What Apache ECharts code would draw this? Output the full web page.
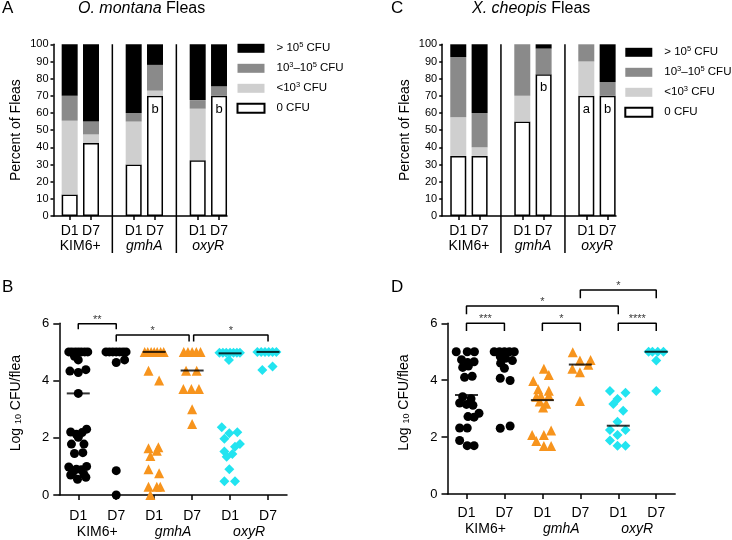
<!DOCTYPE html>
<html><head><meta charset="utf-8">
<script src="https://cdn.jsdelivr.net/npm/echarts@6/dist/echarts.min.js"></script>
<style>html,body{margin:0;padding:0;background:#fff}#c{width:732px;height:540px}</style>
</head><body><div id="c"></div>
<script>
// ---------- data ----------
const groups = ['KIM6+', 'gmhA', 'oxyR'];
const days = ['D1', 'D7'];
const cfuClasses = ['0 CFU', '<10^3 CFU', '10^3-10^5 CFU', '> 10^5 CFU'];
const legendOrder = ['> 10^5 CFU', '10^3-10^5 CFU', '<10^3 CFU', '0 CFU'];
const legendText = {
  '> 10^5 CFU': '> 10{sup|5} CFU',
  '10^3-10^5 CFU': '10{sup|3}–10{sup|5} CFU',
  '<10^3 CFU': '<10{sup|3} CFU',
  '0 CFU': '0 CFU'
};

// Panel A (O. montana) percent of fleas; order KIM6+ D1, D7, gmhA D1, D7, oxyR D1, D7
const aZero = [12.5, 42.5, 30, 70, 32.5, 70];
const aLow  = [43, 5, 25, 3, 30, 0];
const aMid  = [14.5, 7.5, 5, 15, 5, 5.5];
const aHigh = [30, 45, 40, 12, 32.5, 24.5];
const aLetters = ['', '', '', 'b', '', 'b'];

// Panel C (X. cheopis)
const cZero = [35, 35, 55, 82.5, 70, 70];
const cLow  = [22.5, 5, 15, 0, 20, 0];
const cMid  = [35, 20, 30, 15, 10, 8];
const cHigh = [7.5, 40, 0, 2.5, 0, 22];
const cLetters = ['', '', '', 'b', 'a', 'b'];

// Panel B scatter: [jitter offset, log10 CFU/flea]
const bKimD1 = [[-0.25,5],[-0.17,5],[-0.08,5],[0,5],[0.08,5],[0.17,5],[0.25,5],[-0.1,4.85],[0,4.72],
  [-0.22,4.33],[0,4.28],[0.2,4.38],[0,3.55],[-0.2,2.2],[-0.05,2.12],[0.1,2.18],[0.22,2.3],[0,2.02],
  [-0.18,1.78],[0.15,1.78],[-0.1,1.45],[0.12,1.48],[-0.25,0.98],[-0.05,0.9],[0.22,1.0],[0.08,0.88],
  [-0.15,0.78],[0.15,0.72],[-0.02,0.55],[0.2,0.62],[-0.2,0.7]];
const bKimD7 = [[-0.27,5],[-0.18,5],[-0.09,5],[0,5],[0.09,5],[0.18,5],[0.26,5],[0,4.63],[0.22,4.72],[0,0.85],[0,0]];
const bGmhD1 = [[-0.25,5],[-0.17,5],[-0.08,5],[0,5],[0.08,5],[0.17,5],[0.25,5],[-0.15,4.34],[0.13,4.0],
  [-0.15,1.63],[0.11,1.67],[0.07,1.55],[-0.1,1.36],[-0.15,0.9],[0.13,0.76],[-0.15,0.29],[0.07,0.29],[0.16,0.29],[-0.1,0]];
const bGmhD7 = [[-0.22,5],[-0.11,5],[0,5],[0.11,5],[0.22,5],[-0.16,4.34],[0.12,4.34],[-0.23,3.7],[-0.02,3.7],[0.18,3.7],[0,3.0],[0,2.48]];
const bOxyD1 = [[-0.28,4.97],[-0.19,4.97],[-0.1,4.97],[0,4.97],[0.09,4.97],[0.18,4.97],[0.26,4.97],[-0.03,4.72],
  [-0.22,2.37],[-0.02,2.16],[0.19,2.19],[-0.15,1.97],[0.26,1.78],[0.13,1.69],[-0.15,1.52],[0.06,1.43],[-0.09,1.34],
  [-0.02,0.9],[-0.15,0.48],[0.13,0.48]];
const bOxyD7 = [[-0.28,5],[-0.18,5],[-0.08,5],[0.02,5],[0.12,5],[0.22,5],[-0.15,4.37],[0.12,4.49]];
const bMedians = [3.55, 5.0, 5.0, 4.35, 4.95, 5.0];
// brackets: [from, to, height, drop, stars]
const bBrackets = [[0,1,5.98,5.79,'**'],[1,2.92,5.59,5.36,'*'],[3.04,5,5.59,5.36,'*']];

// Panel D scatter
const dKimD1 = [[-0.27,5],[0.02,5],[0.21,5],[-0.13,4.72],[0.03,4.62],[0.2,4.65],[-0.1,4.45],[0.05,4.5],
  [-0.05,4.1],[0.15,4.14],[-0.1,3.42],[0.12,3.35],[-0.18,3.2],[0.0,3.15],[0.17,3.12],[0.04,2.72],[0.2,2.7],[0.33,2.84],
  [-0.18,2.32],[0.02,2.32],[-0.18,1.88],[0.02,1.7],[0.2,1.7]];
const dKimD7 = [[-0.27,5],[-0.13,5],[0,5],[0.13,5],[0.26,5],[-0.11,4.83],[0.03,4.77],[0.21,4.69],[-0.1,4.6],[0,4.42],
  [-0.11,4.07],[0.15,3.99],[-0.11,2.31],[0.15,2.39]];
const dGmhD1 = [[0.04,4.4],[0.17,4.18],[-0.24,3.97],[-0.11,3.68],[0.17,3.63],[-0.04,3.45],[0.17,3.45],[-0.16,3.42],
  [-0.07,3.25],[0.1,3.17],[0.02,3.04],[-0.27,2.07],[0.04,2.07],[0.23,2.23],[-0.16,1.86],[0.04,1.69],[0.23,1.69]];
const dGmhD7 = [[-0.2,4.98],[-0.01,4.69],[0.27,4.71],[-0.21,4.4],[-0.01,4.28],[0.21,4.54],[-0.01,3.27]];
const dOxyD1 = [[-0.22,3.62],[0.19,3.56],[-0.02,3.34],[-0.13,3.16],[0.13,2.93],[-0.02,2.54],[-0.22,2.25],[0.19,2.25],
  [-0.02,2.07],[-0.22,1.88],[-0.02,1.7],[0.19,1.7]];
const dOxyD7 = [[-0.2,5],[-0.1,5],[0.04,5],[0.19,5],[0,4.69],[0,3.62]];
const dMedians = [3.48, 5.0, 3.3, 4.55, 2.4, 5.0];
const dBrackets = [[0,1,6.0,5.73,'***'],[2,3,6.0,5.73,'*'],[4,5,6.0,5.73,'****'],[0,4,6.61,6.32,'*'],[3,5,7.17,6.88,'*']];

const percentTicks = [0, 100, 10];   // min, max, interval
const logTicks = [0, 6, 2];

// ---------- styling ----------
const FONT = 'Liberation Sans, Arial, Helvetica, sans-serif';
const segColors = ['#ffffff', '#cfcfcf', '#8a8a8a', '#000000'];
const grpSymbols = ['circle', 'triangle', 'diamond'];
const grpColors = ['#000000', '#F7941D', '#22E4F0'];
const grpSizes = [9, 10, 10];

// category slots for bar panels: D1, D7, (gap), D1, D7, (gap), D1, D7
const barCats = [];
groups.forEach((g, gi) => { days.forEach(d => barCats.push(d)); if (gi < groups.length - 1) barCats.push(''); });
const barSlot = i => Math.floor(i / 2) * 3 + (i % 2);
const sepSlots = [2, 5];
const sepTop = 100, sepBottom = -21.5;

const grids = [
  {left: 53.5, top: 44.3, width: 173.5, height: 171.7},   // frame A
  {left: 59.0, top: 44.3, width: 170.7, height: 171.7},   // data A
  {left: 442.2, top: 44.3, width: 173.8, height: 171.7},  // frame C
  {left: 447.6, top: 44.3, width: 170.7, height: 171.7},  // data C
  {left: 59.3, top: 323.3, width: 227.7, height: 171.7},  // B
  {left: 447.5, top: 323.3, width: 227.7, height: 170.7}  // D
];

const blackLine = {color: '#000', width: 1.5};
const xAxes = [], yAxes = [], series = [];

function groupLabel(g) { return g === 'KIM6+' ? g : '{it|' + g + '}'; }
const itRich = {it: {fontStyle: 'italic', fontSize: 14, color: '#000'}};

function addBarPanel(frameGi, dataGi, vals, letters) {
  // frame grid: visible y axis + x axis line + group labels
  xAxes.push({type: 'value', gridIndex: frameGi, min: 0.25, max: 8.38, splitLine: {show: false},
    axisLine: {show: true, onZero: false, lineStyle: blackLine}, axisTick: {show: false},
    axisLabel: {customValues: [1.5, 4.5, 7.5], formatter: v => groupLabel(groups[Math.round((v - 1.5) / 3)]),
      fontSize: 14, color: '#000', margin: 23, rich: itRich}});
  yAxes.push({type: 'value', gridIndex: frameGi, min: percentTicks[0], max: percentTicks[1], interval: percentTicks[2],
    axisLine: {show: true, onZero: false, lineStyle: blackLine}, splitLine: {show: false},
    axisTick: {show: true, length: 3, lineStyle: blackLine},
    axisLabel: {fontSize: 11, color: '#000', margin: 5},
    name: 'Percent of Fleas', nameLocation: 'middle', nameGap: 30, nameTextStyle: {fontSize: 14, color: '#000'}});
  // data grid: category slots
  xAxes.push({type: 'category', gridIndex: dataGi, data: barCats, boundaryGap: true,
    axisLine: {show: false, onZero: false},
    axisTick: {show: true, alignWithLabel: true, length: 4, lineStyle: blackLine, interval: (i, v) => v !== ''},
    axisLabel: {interval: 0, fontSize: 14, color: '#000', margin: 8}});
  yAxes.push({type: 'value', gridIndex: dataGi, show: false, min: percentTicks[0], max: percentTicks[1], splitLine: {show: false}});
  const xi = xAxes.length - 1, yi = yAxes.length - 1;
  vals.forEach((arr, k) => {
    const data = barCats.map(() => '-');
    arr.forEach((v, i) => { data[barSlot(i)] = v; });
    series.push({type: 'bar', name: cfuClasses[k], xAxisIndex: xi, yAxisIndex: yi, stack: 'p' + dataGi, barWidth: 16,
      data: data,
      itemStyle: {color: segColors[k], borderColor: k === 0 ? '#000' : segColors[k], borderWidth: k === 0 ? 1.5 : 0},
      label: k === 0 ? {show: true, position: 'insideTop', distance: 7, fontSize: 13, color: '#000',
        formatter: p => { const i = arr.findIndex((_, j) => barSlot(j) === p.dataIndex); return i >= 0 ? letters[i] : ''; }} : {show: false},
      silent: true});
  });
  sepSlots.forEach(s => series.push({type: 'line', xAxisIndex: xi, yAxisIndex: yi, clip: false, symbol: 'none', silent: true,
    data: [[s, sepTop], [s, sepBottom]], lineStyle: blackLine}));
}

function addScatterPanel(gi, pts, medians, brackets, labelMargin) {
  const catVals = [0,1,2,3,4,5];
  xAxes.push({type: 'value', gridIndex: gi, min: -0.5, max: 5.5, splitLine: {show: false},
    axisLine: {show: true, onZero: false, lineStyle: blackLine},
    axisTick: {customValues: catVals, length: 5, lineStyle: blackLine},
    axisLabel: {customValues: catVals, formatter: v => days[Math.round(v) % 2], fontSize: 14, color: '#000', margin: labelMargin}});
  xAxes.push({type: 'value', gridIndex: gi, min: -0.5, max: 5.5, position: 'bottom', offset: 16,
    axisLine: {show: false, onZero: false}, axisTick: {show: false}, splitLine: {show: false},
    axisLabel: {customValues: [0.5, 2.5, 4.5], formatter: v => groupLabel(groups[Math.round((v - 0.5) / 2)]),
      fontSize: 14, color: '#000', margin: labelMargin, rich: itRich}});
  const xi = xAxes.length - 2;
  yAxes.push({type: 'value', gridIndex: gi, min: logTicks[0], max: logTicks[1], interval: logTicks[2],
    axisLine: {show: true, onZero: false, lineStyle: blackLine}, splitLine: {show: false},
    axisTick: {show: true, length: 6, lineStyle: blackLine},
    axisLabel: {fontSize: 13, color: '#000', margin: 10},
    name: 'Log {sub|10} CFU/flea', nameLocation: 'middle', nameGap: 36,
    nameTextStyle: {fontSize: 14, color: '#000', padding: [0, 0, 0, 12], rich: {sub: {fontSize: 9, verticalAlign: 'bottom', color: '#000'}}}});
  const yi = yAxes.length - 1;
  pts.forEach((arr, ci) => {
    const g = Math.floor(ci / 2);
    series.push({type: 'scatter', xAxisIndex: xi, yAxisIndex: yi, symbol: grpSymbols[g], symbolSize: grpSizes[g], clip: false,
      itemStyle: {color: grpColors[g], opacity: 1}, silent: true, data: arr.map(p => [ci + p[0], p[1]])});
  });
  series.push({type: 'scatter', xAxisIndex: xi, yAxisIndex: yi, symbol: 'rect', symbolSize: [23, 2], z: 5, silent: true,
    itemStyle: {color: '#000'}, data: medians.map((m, i) => [i, m])});
  brackets.forEach(b => {
    series.push({type: 'line', xAxisIndex: xi, yAxisIndex: yi, clip: false, symbol: 'none', silent: true,
      lineStyle: blackLine, data: [[b[0], b[3]], [b[0], b[2]], [b[1], b[2]], [b[1], b[3]]]});
  });
  series.push({type: 'scatter', xAxisIndex: xi, yAxisIndex: yi, clip: false, symbolSize: 1, silent: true,
    itemStyle: {color: 'transparent'},
    label: {show: true, position: 'top', distance: -2, fontSize: 11, color: '#000', formatter: p => brackets[p.dataIndex][4]},
    data: brackets.map(b => [(b[0] + b[1]) / 2, b[2]])});
}

addBarPanel(0, 1, [aZero, aLow, aMid, aHigh], aLetters);
addBarPanel(2, 3, [cZero, cLow, cMid, cHigh], cLetters);
addScatterPanel(4, [bKimD1, bKimD7, bGmhD1, bGmhD7, bOxyD1, bOxyD7], bMedians, bBrackets, 14);
addScatterPanel(5, [dKimD1, dKimD7, dGmhD1, dGmhD7, dOxyD1, dOxyD7], dMedians, dBrackets, 12);

function legendAt(left, top) {
  return {data: legendOrder, orient: 'vertical', left: left, top: top, itemWidth: 27, itemHeight: 9, itemGap: 6,
    padding: 0, selectedMode: false, icon: 'rect',
    formatter: n => legendText[n],
    textStyle: {fontSize: 11.5, lineHeight: 14, color: '#000', padding: [0, 0, 0, 7],
      rich: {sup: {fontSize: 7.5, lineHeight: 8, verticalAlign: 'top', color: '#000'}}}};
}

const titleStyle = (fs) => ({fontSize: fs, fontWeight: 'normal', color: '#000', rich: {i: {fontSize: fs, fontStyle: 'italic', color: '#000'}}});
const option = {
  animation: false,
  textStyle: {fontFamily: FONT, color: '#000'},
  title: [
    {text: 'A', left: 2, top: 0, padding: 0, textStyle: titleStyle(17)},
    {text: '{i|O. montana} Fleas', left: 78, top: 1, padding: 0, textStyle: titleStyle(16)},
    {text: 'B', left: 2, top: 279, padding: 0, textStyle: titleStyle(17)},
    {text: 'C', left: 391, top: 0, padding: 0, textStyle: titleStyle(17)},
    {text: '{i|X. cheopis} Fleas', left: 472, top: 1, padding: 0, textStyle: titleStyle(16)},
    {text: 'D', left: 391, top: 279, padding: 0, textStyle: titleStyle(17)}
  ],
  legend: [legendAt(236.5, 41.3), legendAt(624.3, 45.3)],
  grid: grids,
  xAxis: xAxes,
  yAxis: yAxes,
  series: series
};
const chart = echarts.init(document.getElementById('c'), null, {renderer: 'canvas'});
chart.setOption(option);
</script></body></html>
